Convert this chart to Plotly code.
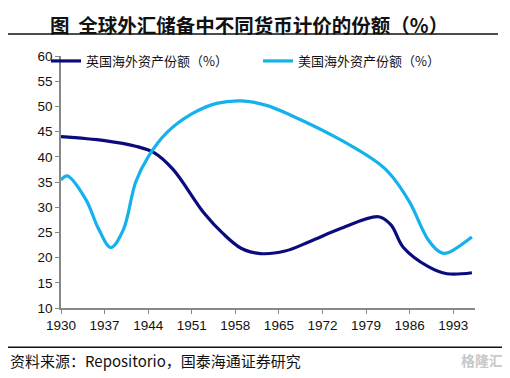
import plotly.graph_objects as go

uk_years = [1930, 1937, 1942, 1945, 1948, 1953, 1956, 1959, 1962, 1966, 1970, 1975, 1981, 1983, 1985, 1989, 1992, 1996]
uk_share = [44.0, 43.2, 42.1, 40.8, 37.5, 28.8, 24.8, 21.8, 20.8, 21.3, 23.2, 25.8, 28.1, 26.5, 22.0, 18.2, 16.8, 17.0]

us_years = [1930, 1931, 1934, 1936, 1938, 1940, 1942, 1944, 1947, 1951, 1955, 1959, 1963, 1967, 1975, 1981, 1983, 1986, 1989, 1991, 1992, 1996]
us_share = [35.4, 36.2, 31.5, 25.8, 22.0, 25.5, 35.0, 40.0, 44.8, 48.5, 50.6, 51.1, 50.2, 48.2, 43.3, 38.7, 36.4, 31.0, 23.5, 21.0, 20.9, 24.1]

x_ticks = [1930, 1937, 1944, 1951, 1958, 1965, 1972, 1979, 1986, 1993]
y_ticks = [10, 15, 20, 25, 30, 35, 40, 45, 50, 55, 60]

uk_name = "英国海外资产份额（%）"
us_name = "美国海外资产份额（%）"
title_text = "图  全球外汇储备中不同货币计价的份额（%）"
source_text = "资料来源：Repositorio，国泰海通证券研究"

CJK = "Noto Sans CJK SC"
# the page body adds an 8px offset; work in reference-pixel coords and shift
OFF = 8
W, H = 510 - OFF, 378 - OFF
L = 61 - OFF
T = 56 - OFF
R = W - (475 - OFF)
B = H - (307.7 - OFF)
pw, ph = W - L - R, H - T - B

def px(x):
    return (x - OFF - L) / pw

def py(y):
    return (H - B - (y - OFF)) / ph

fig = go.Figure()
fig.add_trace(go.Scatter(x=uk_years, y=uk_share, name=uk_name, mode="lines",
                         line=dict(color="#0b0b7e", width=3.2, shape="spline", smoothing=1.0)))
fig.add_trace(go.Scatter(x=us_years, y=us_share, name=us_name, mode="lines",
                         line=dict(color="#14b1ec", width=3.2, shape="spline", smoothing=1.0)))

axis_col = "#888888"
tick_font = dict(family="Liberation Sans, Arial", size=13.5, color="#111111")
fig.update_layout(
    width=W, height=H,
    margin=dict(l=L, r=R, t=T, b=B, autoexpand=False),
    paper_bgcolor="white", plot_bgcolor="white",
    showlegend=True,
    legend=dict(orientation="h", x=px(46), xanchor="left", y=py(46), yanchor="top",
                bgcolor="rgba(0,0,0,0)", font=dict(family=CJK, size=13, color="#111111"),
                entrywidth=167, entrywidthmode="pixels", tracegroupgap=0),
    xaxis=dict(range=[1930, 1996.5], tickmode="array", tickvals=x_ticks,
               ticks="outside", ticklen=4, tickcolor=axis_col, showline=True,
               linecolor=axis_col, linewidth=1.5, showgrid=False, zeroline=False,
               tickfont=tick_font),
    yaxis=dict(range=[10, 60], tickmode="array", tickvals=y_ticks,
               ticks="outside", ticklen=4, tickcolor=axis_col, showline=True,
               linecolor=axis_col, linewidth=1.5, showgrid=False, zeroline=False,
               tickfont=tick_font),
    annotations=[
        dict(text="<b>" + title_text + "</b>", xref="paper", yref="paper",
             x=px(249), y=py(8), xanchor="center", yanchor="top", showarrow=False,
             font=dict(family=CJK, size=19.5, color="#111111")),
        dict(text=source_text, xref="paper", yref="paper", x=px(8), y=py(360),
             xanchor="left", yanchor="middle", showarrow=False,
             font=dict(family=CJK, size=15, color="#111111")),
        dict(text="<b>格隆汇</b>", xref="paper", yref="paper", x=px(505), y=py(360),
             xanchor="right", yanchor="middle", showarrow=False,
             font=dict(family=CJK, size=14, color="#c8c8c8")),
    ],
    shapes=[
        dict(type="line", xref="paper", yref="paper", x0=px(7), x1=px(498), y0=py(34), y1=py(34),
             line=dict(color="#111111", width=1.5)),
        dict(type="line", xref="paper", yref="paper", x0=px(8), x1=px(505), y0=py(347), y1=py(347),
             line=dict(color="#111111", width=1.5)),
    ],
)

fig.write_html("out.html")
